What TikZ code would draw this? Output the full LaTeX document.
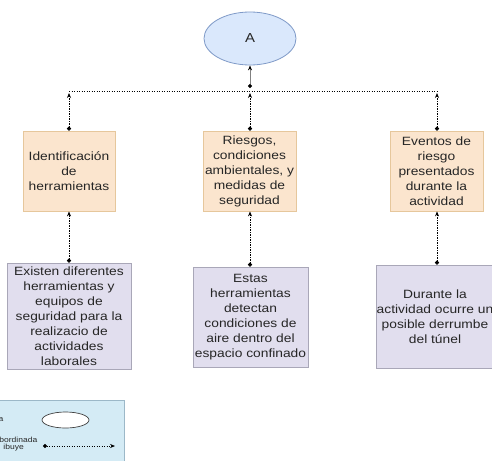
\documentclass[tikz,border=0pt]{standalone}
\usepackage{fontspec}
\setmainfont[FakeStretch=1.15]{Liberation Sans}
\usetikzlibrary{arrows.meta,shapes.geometric}
\definecolor{txt}{HTML}{262626}
\definecolor{topfill}{HTML}{FBE5CE}
\definecolor{topline}{HTML}{E6C79C}
\definecolor{botfill}{HTML}{E1DEEE}
\definecolor{botline}{HTML}{A9A7B8}
\definecolor{ellfill}{HTML}{DAE8FC}
\definecolor{ellline}{HTML}{7F9AC8}
\definecolor{legfill}{HTML}{D4EBF5}
\definecolor{legline}{HTML}{9CB8C8}
\tikzset{
  boxtext/.style={font=\fontsize{12}{15}\selectfont, text=txt, align=center, inner sep=0pt},
  topbox/.style={boxtext, draw=topline, fill=topfill, line width=0.8pt},
  botbox/.style={boxtext, draw=botline, fill=botfill, line width=0.8pt},
  link/.style={line width=0.8pt, dash pattern=on 1.2pt off 1.3pt,
    {Circle[length=4pt]}-{Stealth[length=5pt,width=4pt]}},
  plainlink/.style={line width=0.8pt, dash pattern=on 1.2pt off 1.3pt},
  legtext/.style={font=\fontsize{7.4}{8}\selectfont, text=txt, anchor=east, inner sep=0pt}
}
\begin{document}
\begin{tikzpicture}[x=1pt,y=-1pt]
\useasboundingbox (0,0) rectangle (492,460);
\begin{scope}
\clip (0,0) rectangle (492,460);
\fill[white] (0,0) rectangle (492,460);

% main idea
\node[ellipse, draw=ellline, fill=ellfill, line width=0.8pt,
      minimum width=92pt, minimum height=53pt, inner sep=0pt,
      font=\fontsize{13}{15}\selectfont, text=txt] (A) at (250,38.5) {A};

% first level
\node[topbox, minimum width=92pt, minimum height=80pt] (t1) at (69,171)
  {Identificación\\de\\herramientas};
\node[topbox, minimum width=93pt, minimum height=80pt] (t2) at (249.5,171)
  {Riesgos,\\condiciones\\ambientales, y\\medidas de\\seguridad};
\node[topbox, minimum width=93pt, minimum height=80pt] (t3) at (436.5,171)
  {Eventos de\\riesgo\\presentados\\durante la\\actividad};

% second level
\node[botbox, minimum width=124pt, minimum height=106pt] (b1) at (69,316)
  {Existen diferentes\\herramientas y\\equipos de\\seguridad para la\\realizacio de\\actividades\\laborales};
\node[botbox, minimum width=115pt, minimum height=100pt] (b2) at (250.5,317)
  {Estas\\herramientas\\detectan\\condiciones de\\aire dentro del\\espacio confinado};
\node[botbox, minimum width=116pt, minimum height=103pt] (b3) at (435,316.5)
  {Durante la\\actividad ocurre un\\posible derrumbe\\del túnel};

% distribution line and the points where the links meet it
\coordinate (hl) at (69,91);
\coordinate (hr) at (437,91);
\coordinate (h1) at (69,93);
\coordinate (h2) at (250,93);
\coordinate (h3) at (437,93);
\coordinate (J) at (250,88);

\draw[plainlink] (hl) -- (hr);
\draw[gray, line width=0.8pt, {Circle[length=4pt,black]}-{Stealth[length=5pt,width=4pt,black]}]
  (J) -- (A.south);
\draw[link] (t1.north) -- (h1);
\draw[link] (t2.north -| h2) -- (h2);
\draw[link] (t3.north -| h3) -- (h3);

\draw[link] (b1.north) -- (t1.south);
\draw[link] (b2.north -| h2) -- (t2.south -| h2);
\draw[link] (b3.north -| h3) -- (t3.south -| h3);

% legend
\node[draw=legline, fill=legfill, line width=0.6pt, minimum width=130pt,
      minimum height=70pt, inner sep=0pt, anchor=north west] (leg) at (-6,400) {};
\node[ellipse, draw=black!75, fill=white, line width=0.7pt,
      minimum width=47pt, minimum height=16pt, inner sep=0pt] (le) at (65.5,420) {};
\node[legtext] (l1) at (3.5,420) {a};
\node[legtext] (l2) at (37.5,440) {bordinada};
\node[legtext] (l3) at (24,448) {ibuye};
\coordinate (ls) at (43,446);
\coordinate (lt) at (115,446);
\draw[link, line width=0.7pt] (ls) -- (lt);
\end{scope}
\end{tikzpicture}
\end{document}
